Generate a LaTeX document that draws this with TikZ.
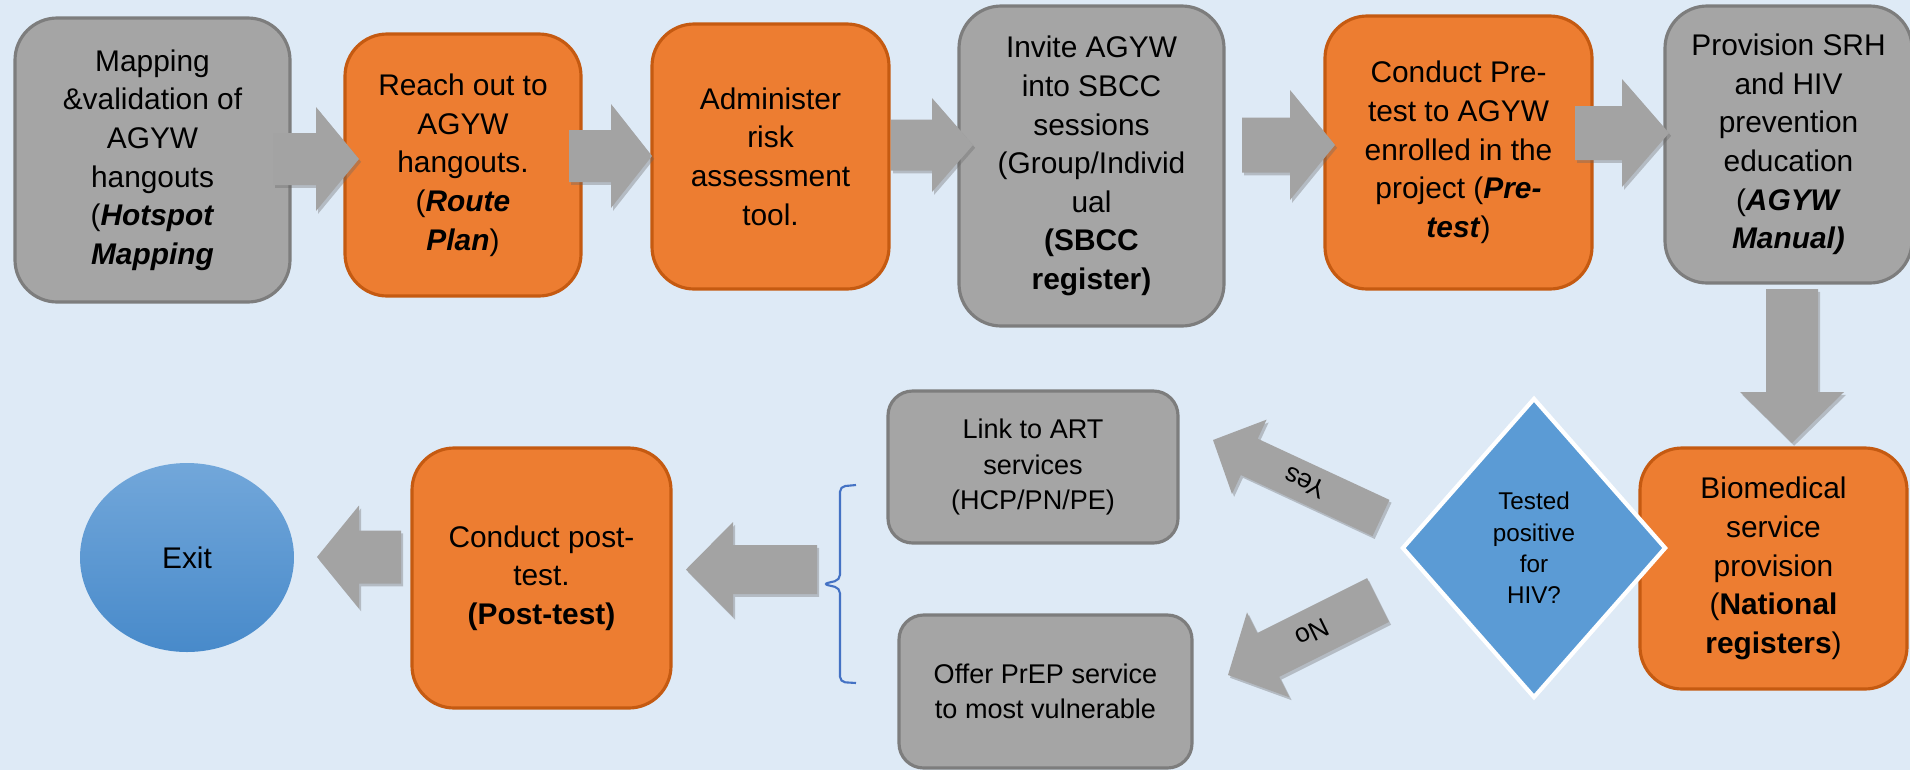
\documentclass[tikz,border=0pt]{standalone}
\usepackage{fontspec}
\setmainfont{Liberation Sans}
\usepackage{tikz}
\usetikzlibrary{shapes.geometric, calc, shadows}

\definecolor{bgblue}{RGB}{222,234,246}
\definecolor{boxgray}{RGB}{165,165,165}
\definecolor{linegray}{RGB}{125,125,125}
\definecolor{boxorange}{RGB}{237,125,49}
\definecolor{lineorange}{RGB}{197,90,17}
\definecolor{diablue}{RGB}{91,155,213}
\definecolor{bracblue}{RGB}{68,114,196}
\definecolor{exittop}{RGB}{114,167,218}
\definecolor{exitbot}{RGB}{72,138,202}
\definecolor{arrgray}{RGB}{163,163,163}

\newcommand{\topfont}{\fontsize{8.5}{11}\selectfont}
\newcommand{\linkfont}{\fontsize{7.7}{10}\selectfont}

\tikzstyle{graybox} = [rectangle, rounded corners=12pt, fill=boxgray, draw=linegray, line width=0.9pt, align=center, font=\topfont]
\tikzstyle{orangebox} = [rectangle, rounded corners=12pt, fill=boxorange, draw=lineorange, line width=0.9pt, align=center, font=\topfont]
\tikzstyle{linkbox} = [graybox, rounded corners=7pt, font=\linkfont]
\tikzstyle{decision} = [diamond, fill=diablue, draw=white, line width=1.2pt, inner sep=0pt, align=center, font=\fontsize{6.9}{8.9}\selectfont]
\tikzstyle{terminal} = [ellipse, top color=exittop, bottom color=exitbot, draw=none, inner sep=0pt, font=\topfont]
\tikzstyle{fatarrow} = [fill=arrgray, drop shadow={shadow xshift=0.6pt, shadow yshift=-0.8pt, opacity=0.35, fill=black!60}]
\tikzstyle{brace} = [draw=bracblue, line width=0.6pt, rounded corners=1.5pt]
\tikzstyle{answer} = [font=\fontsize{7.5}{9}\selectfont, inner sep=0pt]

% block arrow: tail, tip, half shaft, half head, head length
\newcommand{\blockarrow}[5]{%
  \coordinate (hb) at ($(#2)!#5!(#1)$);
  \path[fatarrow] ($(#1)!#3!90:(#2)$) -- ($(hb)!#3!90:(#2)$) -- ($(hb)!#4!90:(#2)$) -- (#2)
    -- ($(hb)!#4!-90:(#2)$) -- ($(hb)!#3!-90:(#2)$) -- ($(#1)!#3!-90:(#2)$) -- cycle;
}

\begin{document}
\begin{tikzpicture}
    \useasboundingbox (0,0) rectangle (19.10,-7.70);
    \fill[bgblue] (0,0) rectangle (19.10,-7.70);

    % top row
    \node (map) [graybox, minimum width=2.75cm, minimum height=2.84cm] at (1.525,-1.60) {Mapping\\\&validation of\\AGYW\\hangouts\\(\textbf{\textit{Hotspot}}\\\textbf{\textit{Mapping}}};
    \node (reach) [orangebox, minimum width=2.36cm, minimum height=2.62cm] at (4.63,-1.65) {Reach out to\\AGYW\\hangouts.\\(\textbf{\textit{Route}}\\\textbf{\textit{Plan}})};
    \node (admin) [orangebox, minimum width=2.37cm, minimum height=2.65cm] at (7.705,-1.565) {Administer\\risk\\assessment\\tool.};
    \node (invite) [graybox, minimum width=2.65cm, minimum height=3.20cm] at (10.915,-1.66) {Invite AGYW\\into SBCC\\sessions\\(Group/Individ\\ual\\\textbf{(SBCC}\\\textbf{register)}};
    \node (pretest) [orangebox, minimum width=2.67cm, minimum height=2.73cm] at (14.585,-1.525) {Conduct Pre-\\test to AGYW\\enrolled in the\\project (\textbf{\textit{Pre-}}\\\textbf{\textit{test}})};
    \node (educ) [graybox, minimum width=2.47cm, minimum height=2.77cm] at (17.885,-1.445) {Provision SRH\\and HIV\\prevention\\education\\(\textbf{\textit{AGYW}}\\\textbf{\textit{Manual)}}};

    % bottom row
    \node (biomed) [orangebox, minimum width=2.67cm, minimum height=2.41cm] at (17.735,-5.685) {Biomedical\\service\\provision\\(\textbf{National}\\\textbf{registers})};
    \node (tested) [decision, minimum width=2.64cm, minimum height=3.0cm] at (15.34,-5.48) {Tested\\positive\\for\\HIV?};
    \node (art) [linkbox, minimum width=2.90cm, minimum height=1.52cm] at (10.33,-4.67) {Link to ART\\services\\(HCP/PN/PE)};
    \node (prep) [linkbox, minimum width=2.93cm, minimum height=1.53cm] at (10.455,-6.915) {Offer PrEP service\\to most vulnerable};
    \node (post) [orangebox, minimum width=2.59cm, minimum height=2.60cm] at (5.415,-5.78) {Conduct post-\\test.\\\textbf{(Post-test)}};
    \node (exit) [terminal, minimum width=2.14cm, minimum height=1.89cm] at (1.87,-5.575) {Exit};

    % arrow ends
    \coordinate (a1s) at (2.73,-1.59);  \coordinate (a1e) at (3.59,-1.59);
    \coordinate (a2s) at (5.69,-1.56);  \coordinate (a2e) at (6.52,-1.56);
    \coordinate (a3s) at (8.91,-1.45);  \coordinate (a3e) at (9.73,-1.45);
    \coordinate (a4s) at (12.42,-1.45); \coordinate (a4e) at (13.35,-1.45);
    \coordinate (a5s) at (15.75,-1.33); \coordinate (a5e) at (16.69,-1.33);
    \coordinate (a6s) at (17.92,-2.89); \coordinate (a6e) at (17.92,-4.43);
    \coordinate (ys) at (13.81,-5.18);  \coordinate (ye) at (12.13,-4.40);
    \coordinate (ns) at (13.78,-6.00);  \coordinate (ne) at (12.28,-6.75);
    \coordinate (bs) at (8.17,-5.695);  \coordinate (be) at (6.86,-5.695);
    \coordinate (es) at (4.01,-5.57);   \coordinate (ee) at (3.17,-5.57);

    \blockarrow{a1s}{a1e}{0.26cm}{0.52cm}{0.43cm}
    \blockarrow{a2s}{a2e}{0.26cm}{0.52cm}{0.41cm}
    \blockarrow{a3s}{a3e}{0.255cm}{0.47cm}{0.41cm}
    \blockarrow{a4s}{a4e}{0.275cm}{0.55cm}{0.45cm}
    \blockarrow{a5s}{a5e}{0.27cm}{0.54cm}{0.47cm}
    \blockarrow{a6s}{a6e}{0.26cm}{0.52cm}{0.51cm}
    \blockarrow{ys}{ye}{0.20cm}{0.41cm}{0.40cm}
    \blockarrow{ns}{ne}{0.245cm}{0.475cm}{0.45cm}
    \blockarrow{bs}{be}{0.245cm}{0.475cm}{0.47cm}
    \blockarrow{es}{ee}{0.265cm}{0.515cm}{0.42cm}

    \node (yes) [answer, rotate=155] at ($(ys)!0.45!(ye)$) {Yes};
    \node (no) [answer, rotate=206] at ($(ns)!0.44!(ne)$) {No};

    % brace
    \draw[brace] (8.56,-4.85) -- (8.40,-4.865) -- (8.40,-5.80) -- (8.23,-5.84) -- (8.40,-5.88) -- (8.40,-6.82) -- (8.56,-6.83);

\end{tikzpicture}
\end{document}
